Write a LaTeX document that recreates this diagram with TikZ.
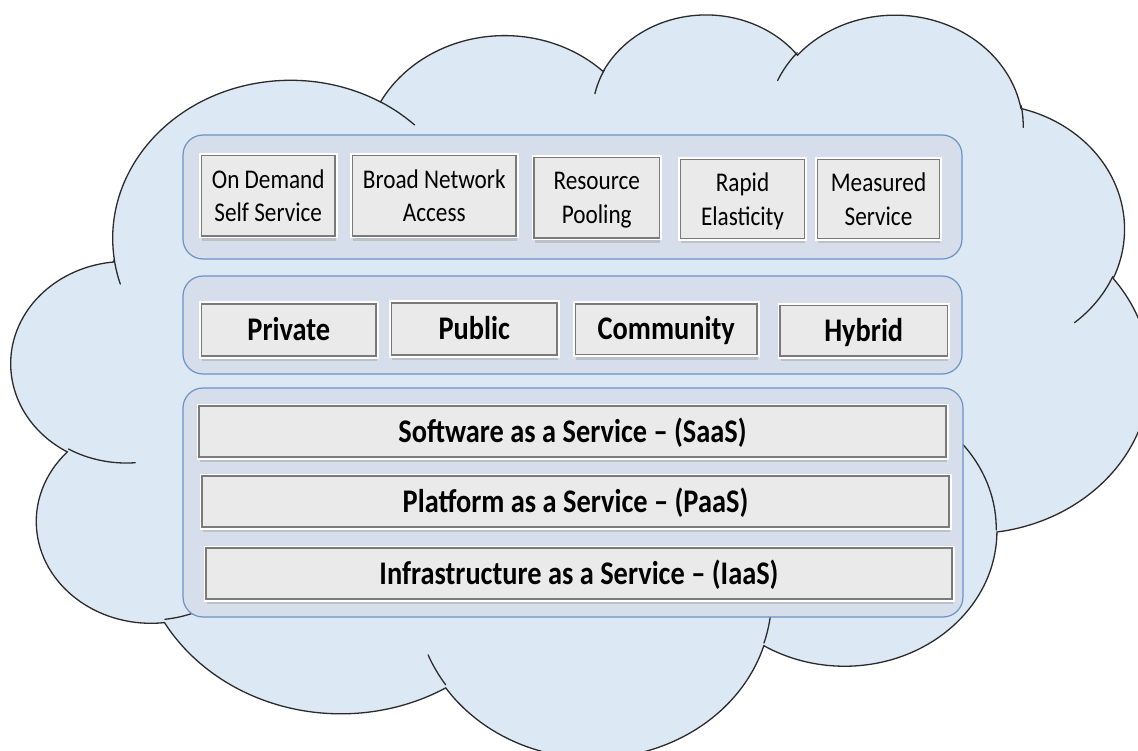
\documentclass[tikz,border=0pt]{standalone}
\usepackage{fontspec}
\usetikzlibrary{shadows}
\newfontfamily\regfont{Carlito}[FakeStretch=0.86]
\newfontfamily\bldfont{Carlito}[FakeStretch=0.86]

\definecolor{cloudfill}{HTML}{DDE8F5}
\definecolor{cloudedge}{HTML}{2B2B2B}
\definecolor{panelfill}{HTML}{D5DEEA}
\definecolor{paneledge}{HTML}{6C93C3}
\definecolor{boxfill}{HTML}{EAEAEA}
\definecolor{boxedge}{HTML}{7A7A7A}

\tikzset{
  cloudline/.style={draw=cloudedge, line width=1.3pt, line cap=round},
  panel/.style={draw=paneledge, fill=panelfill, line width=1.2pt,
    rounded corners=20pt, inner sep=0pt},
  tile/.style={draw=boxedge, fill=boxfill, line width=1.6pt, inner sep=0pt,
    drop shadow={shadow xshift=0.8pt, shadow yshift=-5pt, opacity=0.3},
    preaction={draw=white, line width=5pt}},
  feature/.style={tile, font=\regfont\fontsize{27}{33.3}\selectfont,
    align=center, text depth=0pt},
  model/.style={tile, font=\bldfont\bfseries\fontsize{33}{40}\selectfont,
    text height=21.2pt, text depth=0pt},
  layer/.style={model},
}

\begin{document}
\begin{tikzpicture}[x=1pt, y=-1pt]
\useasboundingbox (0,0) rectangle (1138,751);
\fill[white] (0,0) rectangle (1138,751);
\clip (0,0) rectangle (1138,751);

% cloud outline, eleven elliptical bumps
\path[fill=cloudfill, cloudline] (114.34,259.65)
  arc[start angle=-172.25, end angle=-300.36, x radius=177.89pt, y radius=158.06pt]
  arc[start angle=152.02, end angle=45.43, x radius=140.49pt, y radius=124.99pt]
  arc[start angle=153.49, end angle=37.32, x radius=114.99pt, y radius=102.25pt]
  arc[start angle=139.69, end angle=10.21, x radius=127.95pt, y radius=113.43pt]
  arc[start angle=74.77, end angle=-23.21, x radius=140.49pt, y radius=125.09pt]
  arc[start angle=37.52, end angle=-81.86, x radius=178.47pt, y radius=158.58pt]
  arc[start angle=-0.46, end angle=-121.98, x radius=152.39pt, y radius=135.30pt]
  arc[start angle=-16.84, end angle=-146.23, x radius=177.87pt, y radius=158.49pt]
  arc[start angle=-58.98, end angle=-150.20, x radius=203.37pt, y radius=181.33pt]
  arc[start angle=-83.31, end angle=-223.13, x radius=114.85pt, y radius=101.78pt]
  arc[start angle=-120.36, end angle=-264.11, x radius=114.46pt, y radius=102.25pt]
  -- cycle;

% inner creases of the cloud
\draw[cloudline] (135.23,462.72) arc[start angle=-85.55, end angle=-120.36, x radius=114.46pt, y radius=102.25pt];
\draw[cloudline] (194.1,612.73) arc[start angle=-68.24, end angle=-83.31, x radius=114.85pt, y radius=101.78pt];
\draw[cloudline] (445.7,684.8) arc[start angle=-146.23, end angle=-158.47, x radius=177.87pt, y radius=158.49pt];
\draw[cloudline] (771.0,610.2) arc[start angle=-4.74, end angle=-16.84, x radius=177.87pt, y radius=158.49pt];
\draw[cloudline] (910.6,407.3) arc[start angle=64.03, end angle=-0.46, x radius=152.39pt, y radius=135.30pt];
\draw[cloudline] (1112.7,276.6) arc[start angle=-23.21, end angle=-49.65, x radius=140.49pt, y radius=125.09pt];
\draw[cloudline] (1021.2,105.8) arc[start angle=10.21, end angle=-0.82, x radius=127.95pt, y radius=113.43pt];
\draw[cloudline] (777.6,80.5) arc[start angle=156.30, end angle=139.69, x radius=127.95pt, y radius=113.43pt];
\draw[cloudline] (594.9,93.7) arc[start angle=167.72, end angle=153.49, x radius=114.99pt, y radius=102.25pt];
\draw[cloudline] (380.4,101.8) arc[start angle=59.64, end angle=45.74, x radius=177.89pt, y radius=158.06pt];
\draw[cloudline] (120.3,284.1) arc[start angle=-163.19, end angle=-172.25, x radius=177.89pt, y radius=158.06pt];

% three panels
\node[panel, minimum width=779pt, minimum height=124pt] (charp) at (572.5,197) {};
\node[panel, minimum width=779pt, minimum height=98pt] (deployp) at (572.5,325) {};
\node[panel, minimum width=780pt, minimum height=229pt] (servp) at (573,502.5) {};

% essential characteristics
\node[feature, minimum width=133.5pt, minimum height=80.5pt] (odss) at (268.25,195.75) {On Demand\\Self Service};
\node[feature, minimum width=163.5pt, minimum height=80.5pt] (bna) at (434.25,195.75) {Broad Network\\Access};
\node[feature, minimum width=125.5pt, minimum height=80.5pt] (rpool) at (596.75,197.75) {Resource\\Pooling};
\node[feature, minimum width=124pt, minimum height=79pt] (relas) at (742.5,199) {Rapid\\Elasticity};
\node[feature, minimum width=122pt, minimum height=79pt] (meas) at (878.5,199) {Measured\\Service};

% deployment models
\node[model, minimum width=174.5pt, minimum height=52pt] (priv) at (288.75,330) {Private};
\node[model, minimum width=165.5pt, minimum height=52pt] (pub) at (474.25,329) {Public};
\node[model, minimum width=181.5pt, minimum height=50.5pt] (comm) at (666.25,329.25) {Community};
\node[model, minimum width=167.5pt, minimum height=50.5pt] (hyb) at (863.75,330.75) {Hybrid};

% service layers
\node[layer, minimum width=747pt, minimum height=51pt] (saas) at (572.5,431.5) {Software as a Service – (SaaS)};
\node[layer, minimum width=747pt, minimum height=51pt] (paas) at (575.5,501.5) {Platform as a Service – (PaaS)};
\node[layer, minimum width=746pt, minimum height=51pt] (iaas) at (579,573.5) {Infrastructure as a Service – (IaaS)};
\end{tikzpicture}
\end{document}
